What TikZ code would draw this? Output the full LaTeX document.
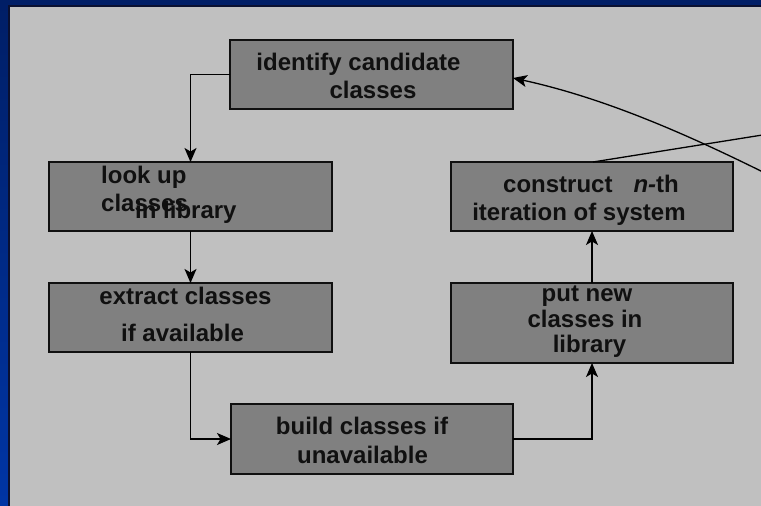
\documentclass[tikz,border=0pt]{standalone}
\usepackage{fontspec}
\setmainfont{Liberation Sans}
\usetikzlibrary{arrows.meta,calc}
\definecolor{panelgray}{HTML}{C0C0C0}
\definecolor{boxgray}{HTML}{808080}
\definecolor{bluetop}{HTML}{001E66}
\definecolor{bluebot}{HTML}{0035A5}
\definecolor{edgedark}{HTML}{0A1030}
\definecolor{inkdark}{HTML}{101010}
\begin{document}
\begin{tikzpicture}[x=1pt,y=-1pt,
  box/.style={draw=inkdark,line width=1.6pt,fill=boxgray,inner sep=0pt,outer sep=0pt},
  txt/.style={inner sep=0pt,anchor=base,text=inkdark,font=\fontsize{24}{28}\selectfont\bfseries},
  txtw/.style={txt,anchor=base west},
  conn/.style={draw=black,line width=1.3pt},
  arr/.style={conn,-{Stealth[length=14pt,width=12pt,inset=3.5pt]}}]
\useasboundingbox (0,0) rectangle (761,506);
\clip (0,0) rectangle (761,506);
% background
\shade[top color=bluetop,bottom color=bluebot] (0,0) rectangle (761,506);
\fill[edgedark] (8,5) rectangle (761,506);
\fill[panelgray] (9.8,6.8) rectangle (761,506);
% boxes
\node[box,minimum width=283pt,minimum height=69pt] (id) at (371.5,74.5) {};
\node[box,minimum width=283pt,minimum height=69pt] (lk) at (190.5,196.5) {};
\node[box,minimum width=283pt,minimum height=69pt] (ex) at (190.5,317.5) {};
\node[box,minimum width=282pt,minimum height=70pt] (bd) at (372,439) {};
\node[box,minimum width=282pt,minimum height=80pt] (pn) at (592,323) {};
\node[box,minimum width=282pt,minimum height=69pt] (cn) at (592,196.5) {};
% texts
\node[txt] (t1a) at (358.5,70) {identify candidate};
\node[txt] (t1b) at (373,98) {classes};
\node[txtw] (t2a) at (101,183) {look up};
\node[txtw] (t2b) at (101,211) {classes};
\node[txtw] (t2c) at (135,218) {in library};
\node[txt] (t3a) at (185.5,304) {extract classes};
\node[txt] (t3b) at (182.5,341) {if available};
\node[txt] (t4a) at (362,434) {build classes if};
\node[txt] (t4b) at (362.5,463) {unavailable};
\node[txt] (t5a) at (587,301) {put new};
\node[txt] (t5b) at (585,327) {classes in};
\node[txt] (t5c) at (589.5,352) {library};
\node[txtw] (t6a) at (503,192) {construct\hspace{21pt}\textit{n-}th};
\node[txt] (t6b) at (579,220) {iteration of system};
% off-page ends
\coordinate (offA) at (775,133);
\coordinate (offB) at (775,178);
\coordinate (idin) at ($(id.east)+(0,3.5)$);
% connectors
\draw[arr] (id.west) -| (lk.north);
\draw[arr] (lk.south) -- (ex.north);
\draw[arr] (ex.south) |- (bd.west);
\draw[arr] (bd.east) -| (pn.south);
\draw[arr] (pn.north) -- (cn.south);
\draw[conn] ([xshift=1pt]cn.north) -- (offA);
\draw[arr] (offB) .. controls (685,133) and (604,98) .. (idin);
\end{tikzpicture}
\end{document}
